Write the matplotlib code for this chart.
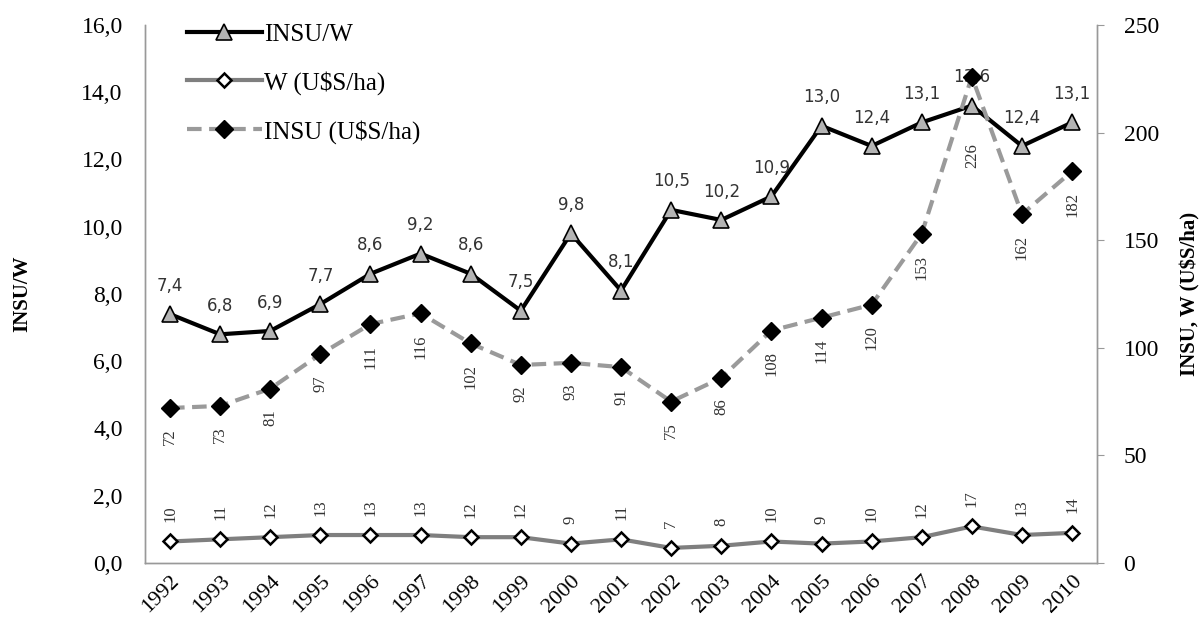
import numpy as np
import matplotlib
matplotlib.use("Agg")
import matplotlib.pyplot as plt

years = [str(y) for y in range(1992, 2011)]
insu_w = [7.4, 6.8, 6.9, 7.7, 8.6, 9.2, 8.6, 7.5, 9.8, 8.1, 10.5, 10.2, 10.9, 13.0, 12.4, 13.1, 13.6, 12.4, 13.1]
w = [10, 11, 12, 13, 13, 13, 12, 12, 9, 11, 7, 8, 10, 9, 10, 12, 17, 13, 14]
insu = [72, 73, 81, 97, 111, 116, 102, 92, 93, 91, 75, 86, 108, 114, 120, 153, 226, 162, 182]

serif = "Liberation Serif"
x = np.arange(len(years))

fig = plt.figure(figsize=(12.03, 6.23), dpi=100)
ax1 = fig.add_axes([0.1205, 0.0963, 0.7915, 0.8637])
ax2 = ax1.twinx()

l1, = ax1.plot(x, insu_w, color="black", lw=3, marker="^", markersize=12,
               markerfacecolor="#b4b4b4", markeredgecolor="black", markeredgewidth=1.2, zorder=3)
l2, = ax2.plot(x, w, color="#7f7f7f", lw=3, marker="D", markersize=7,
               markerfacecolor="white", markeredgecolor="black", markeredgewidth=1.8, zorder=3)
l3, = ax2.plot(x, insu, color="#9a9a9a", lw=3, ls=(0, (3.5, 1.8)), marker="D", markersize=9,
               markerfacecolor="black", markeredgecolor="black", zorder=4)

for i, v in enumerate(insu_w):
    ax1.annotate(f"{v:.1f}".replace(".", ","), (i, v), xytext=(0, 14), textcoords="offset points",
                 ha="center", va="bottom", fontsize=12, color="#333333", family="DejaVu Sans")
for i, v in enumerate(insu):
    # 2008 label sits under the INSU/W triangle
    dy = -48 if years[i] == "2008" else -15
    ax2.annotate(str(v), (i, v), xytext=(0, dy), textcoords="offset points",
                 ha="center", va="top", rotation=90, fontsize=12, color="#333333", family=serif)
for i, v in enumerate(w):
    ax2.annotate(str(v), (i, v), xytext=(0, 14), textcoords="offset points",
                 ha="center", va="bottom", rotation=90, fontsize=12, color="#333333", family=serif)

ax1.set_xlim(-0.5, len(years) - 0.5)
ax1.set_ylim(0, 16)
ax2.set_ylim(0, 250)
ax1.set_yticks(np.arange(0, 16.1, 2))
ax1.set_yticklabels([f"{v:.1f}".replace(".", ",") for v in np.arange(0, 16.1, 2)],
                    family=serif, fontsize=17)
ax2.set_yticks(np.arange(0, 251, 50))
ax2.set_yticklabels([str(v) for v in range(0, 251, 50)], family=serif, fontsize=17)
ax1.set_xticks(x)
ax1.set_xticklabels(years, rotation=45, ha="right", rotation_mode="anchor",
                    family=serif, fontsize=16)

ax1.tick_params(axis="y", length=0, pad=16)
ax1.tick_params(axis="x", length=0, pad=6)
ax2.tick_params(axis="y", length=5, color="#999999", pad=14)

for ax in (ax1, ax2):
    ax.spines["top"].set_visible(False)
    for s in ("left", "right", "bottom"):
        ax.spines[s].set_color("#999999")
        ax.spines[s].set_linewidth(1)

ax1.set_ylabel("INSU/W", family=serif, fontsize=15, fontweight="bold")
ax1.yaxis.set_label_coords(-0.118, 0.5)
ax2.set_ylabel("INSU, W (U$S/ha)", family=serif, fontsize=15, fontweight="bold")
ax2.yaxis.set_label_coords(1.087, 0.5)

ax2.legend([l1, l2, l3], ["INSU/W", "W (U$S/ha)", "INSU (U$S/ha)"], loc="upper left",
           bbox_to_anchor=(0.02, 1.045), frameon=False, prop={"family": serif, "size": 18},
           handlelength=3.0, labelspacing=1.0, handletextpad=0.1)

fig.savefig("out.png", dpi=100)
